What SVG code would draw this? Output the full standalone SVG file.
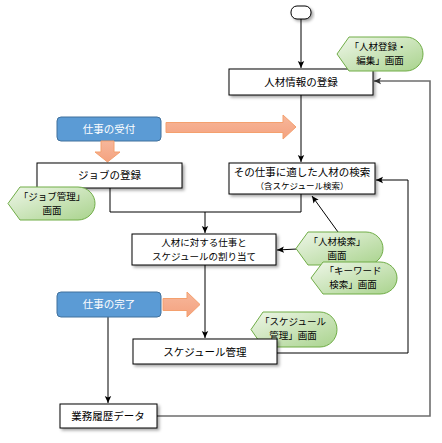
<svg xmlns="http://www.w3.org/2000/svg" width="442" height="443" viewBox="0 0 442 443">
<defs>
<filter id="sh" x="-10%" y="-20%" width="130%" height="160%"><feDropShadow dx="2" dy="2" stdDeviation="1.5" flood-color="#000" flood-opacity="0.35"/></filter>
<linearGradient id="gr" x1="0" y1="0" x2="1" y2="1"><stop offset="0" stop-color="#EEF6E8"/><stop offset="1" stop-color="#A9D38D"/></linearGradient>
<linearGradient id="og" x1="0" y1="0" x2="0" y2="1"><stop offset="0" stop-color="#F7B79B"/><stop offset="1" stop-color="#F4A27F"/></linearGradient>
<marker id="ah" markerWidth="8" markerHeight="8" refX="7" refY="4" orient="auto" markerUnits="userSpaceOnUse"><path d="M0,0.8 L7,4 L0,7.2 L1.5,4 Z" fill="#000"/></marker>
<marker id="ahg" markerWidth="8" markerHeight="8" refX="7" refY="4" orient="auto" markerUnits="userSpaceOnUse"><path d="M0,0.8 L7,4 L0,7.2 L1.5,4 Z" fill="#333"/></marker>
</defs>
<style>
.box{fill:#fff;stroke:#000;stroke-width:1;filter:url(#sh)}
.blue{fill:#5B9BD5;stroke:#41719C;stroke-width:1}
.call{fill:url(#gr);stroke:#70AD47;stroke-width:1}
.fat{fill:url(#og);stroke:#F4A06E;stroke-width:1}
.ln{fill:none;stroke:#000;stroke-width:1}
.lg{fill:none;stroke:#6E6E6E;stroke-width:1.6}
text{font-family:"Noto Sans CJK JP","Noto Sans",sans-serif;font-size:10.5px;text-anchor:middle;fill:#000}
.w{fill:#fff}
.s{font-size:8.5px}
.t{font-size:9.5px}
</style>
<g id="connectors">
<path class="ln" d="M301,19 V68" marker-end="url(#ah)"/>
<path class="ln" d="M301,95 V162" marker-end="url(#ah)"/>
<path class="ln" d="M110,188 V212 H301 V194"/>
<path class="ln" d="M205,212 V233" marker-end="url(#ah)"/>
<path class="ln" d="M205,265 V338" marker-end="url(#ah)"/>
<path class="ln" d="M277,353 H408 V180 H376" marker-end="url(#ah)"/>
<path class="lg" d="M157,416 H430 V81 H374" marker-end="url(#ahg)"/>
<path class="ln" d="M108,317 V403" marker-end="url(#ah)"/>
<path class="ln" d="M297,249 L277,250" marker-end="url(#ah)"/>
<path class="ln" d="M338,232 L312,196" marker-end="url(#ah)"/>
</g>
<g id="start"><rect x="291" y="6" width="20" height="13" rx="6" fill="#fff" stroke="#000" filter="url(#sh)"/></g>
<g id="n-jinzai-touroku"><rect class="box" x="229" y="69" width="144" height="26"/><text x="301" y="86">人材情報の登録</text></g>
<g id="c-jinzai-henshu"><path class="call" d="M337,54 L349,37 L406,37 A17,17 0 0 1 406,71 L349,71 Z"/><text class="t" x="378" y="50">「人材登録・</text><text class="t" x="380" y="64">編集」画面</text></g>
<g id="n-uketsuke"><rect class="blue" x="57" y="117" width="104" height="24" rx="4"/><text class="w" x="109" y="133">仕事の受付</text></g>
<g id="a-uketsuke-down"><path class="fat" d="M101,141 H114 V152 H120 L107.5,162 L95,152 H101 Z"/></g>
<g id="a-uketsuke-right"><path class="fat" d="M166,122.5 H283 V115 L296,127 L283,139 V132.5 H166 Z"/></g>
<g id="n-job"><rect class="box" x="37" y="163" width="145" height="25"/><text x="109.5" y="179">ジョブの登録</text></g>
<g id="c-job"><path class="call" d="M8,203.5 L20,187 L78,187 A17,16.5 0 0 1 78,220 L20,220 Z"/><text class="t" x="52" y="200">「ジョブ管理」</text><text class="t" x="52" y="214">画面</text></g>
<g id="n-search"><rect class="box" x="229" y="163" width="146" height="31"/><text x="302" y="176">その仕事に適した人材の検索</text><text class="s" x="302" y="189">（含スケジュール検索）</text></g>
<g id="n-assign"><rect class="box" x="132" y="234" width="144" height="31"/><text class="t" x="204" y="246">人材に対する仕事と</text><text class="t" x="204" y="260">スケジュールの割り当て</text></g>
<g id="c-jinzai-kensaku"><path class="call" d="M296,248.5 L308,232 L366,232 A17,16.5 0 0 1 366,265 L308,265 Z"/><text class="t" x="337" y="245">「人材検索」</text><text class="t" x="337" y="259">画面</text></g>
<g id="c-keyword"><path class="call" d="M311,278 L323,262 L380,262 A17,16 0 0 1 380,294 L323,294 Z"/><text class="t" x="353" y="274">「キーワード</text><text class="t" x="353" y="288">検索」画面</text></g>
<g id="n-kanryo"><rect class="blue" x="57" y="292" width="104" height="25" rx="4"/><text class="w" x="109" y="308">仕事の完了</text></g>
<g id="a-kanryo-right"><path class="fat" d="M163,298.5 H187 V292 L200,304.5 L187,317 V310.5 H163 Z"/></g>
<g id="c-schedule"><path class="call" d="M251,329.5 L263,312 L320,312 A17,17.5 0 0 1 320,347 L263,347 Z"/><text class="t" x="293" y="325">「スケジュール</text><text class="t" x="293" y="339">管理」画面</text></g>
<g id="n-schedule"><rect class="box" x="133" y="339" width="144" height="25"/><text x="205" y="356">スケジュール管理</text></g>
<g id="n-rireki"><rect class="box" x="60" y="404" width="97" height="24"/><text x="108" y="420">業務履歴データ</text></g>
</svg>
